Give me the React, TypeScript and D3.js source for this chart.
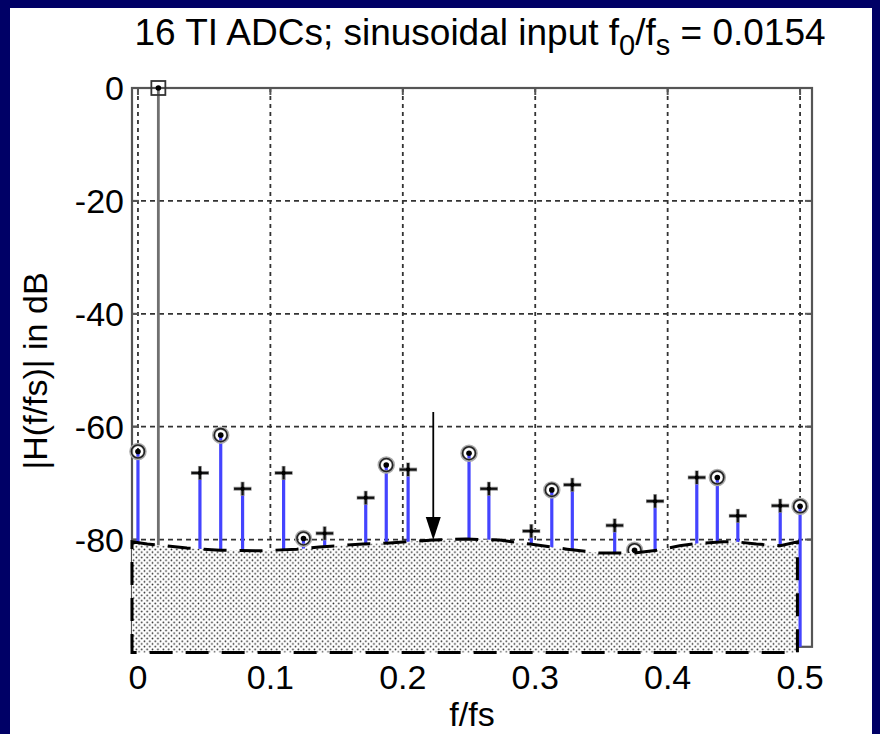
import React from 'react';
import * as d3 from 'd3';

const W = 880;
const H = 734;

const xTicks = [0, 0.1, 0.2, 0.3, 0.4, 0.5];
const xTickLabels = ['0', '0.1', '0.2', '0.3', '0.4', '0.5'];
const yTicks = [0, -20, -40, -60, -80];
const yTickLabels = ['0', '-20', '-40', '-60', '-80'];

// spur frequencies (f/fs), levels (dB) and marker kinds
const spurFreq = [0, 0.0468, 0.0625, 0.079, 0.11, 0.125, 0.141, 0.172, 0.1875, 0.204, 0.25, 0.265, 0.297, 0.3125, 0.328, 0.36, 0.375, 0.3905, 0.422, 0.4375, 0.453, 0.485, 0.5];
const spurDb = [-64.4, -68.2, -61.5, -71.0, -68.2, -79.8, -78.9, -72.6, -66.8, -67.6, -64.7, -71.0, -78.5, -71.2, -70.3, -77.5, -81.9, -73.2, -69.0, -69.0, -75.8, -74.0, -74.1];
const spurMarker = ['circle', 'plus', 'circle', 'plus', 'plus', 'circle', 'plus', 'plus', 'circle', 'plus', 'circle', 'plus', 'plus', 'circle', 'plus', 'plus', 'circle', 'plus', 'plus', 'circle', 'plus', 'plus', 'circle'];

// fundamental
const fundFreq = [0.0154];
const fundDb = [0];

// noise floor region (top boundary)
const floorFreq = [-0.0045, 0.007, 0.037, 0.062, 0.092, 0.12, 0.137, 0.17, 0.19, 0.223, 0.248, 0.273, 0.296, 0.324, 0.349, 0.374, 0.392, 0.409, 0.422, 0.442, 0.452, 0.467, 0.485, 0.498];
const floorDb = [-80.4, -80.8, -81.5, -81.9, -82.0, -81.7, -81.3, -80.8, -80.6, -80.1, -79.9, -80.1, -80.8, -81.7, -82.4, -82.4, -81.9, -81.1, -80.7, -80.4, -80.4, -80.8, -81.1, -80.4];
const floorBottomDb = -100;

// arrow
const arrowFreq = 0.223;
const arrowFromDb = -57.4;
const arrowToDb = -80.1;

const FONT = '"Liberation Sans", Arial, Helvetica, sans-serif';

export default function App() {
  const x = d3.scaleLinear().domain([-0.0045, 0.509]).range([132, 812]);
  const y = d3.scaleLinear().domain([-99, 0]).range([646.8, 88]);
  const [x0, x1] = x.range();
  const [yB, yT] = y.range();

  const floorPts: [number, number][] = floorFreq.map((f, i) => [x(f), y(floorDb[i])]);
  floorPts.push([x(floorFreq[floorFreq.length - 1]), y(floorBottomDb)]);
  floorPts.push([x(floorFreq[0]), y(floorBottomDb)]);
  const floorPath = d3.line()(floorPts) + 'Z';

  const stemColor = '#4444ff';
  const ax = x(arrowFreq);
  const ayTip = y(arrowToDb);

  return (
    <svg width={W} height={H} style={{ position: 'absolute', left: 0, top: 0, display: 'block' }} fontFamily={FONT}>
      <defs>
        <pattern id="dots" width="5.4" height="5.4" patternUnits="userSpaceOnUse">
          <rect width="5.4" height="5.4" fill="#fff" />
          <circle cx="1.35" cy="1.35" r="0.85" fill="#222" />
          <circle cx="4.05" cy="4.05" r="0.85" fill="#222" />
        </pattern>
      </defs>
      <rect x={0} y={0} width={W} height={H} fill="#000066" />
      <rect x={10} y={8} width={862} height={H - 8} fill="#fff" />

      {/* grid */}
      {xTicks.map((t) => (
        <line key={'gx' + t} x1={x(t)} x2={x(t)} y1={yT} y2={yB} stroke="#333" strokeWidth={1.8} strokeDasharray="4,4" />
      ))}
      {yTicks.map((t) => (
        <line key={'gy' + t} x1={x0} x2={x1} y1={y(t)} y2={y(t)} stroke="#333" strokeWidth={1.8} strokeDasharray="5,4" />
      ))}

      {/* axes box */}
      <rect x={x0} y={yT} width={x1 - x0} height={yB - yT} fill="none" stroke="#555" strokeWidth={2.2} />
      {yTicks.map((t) => (
        <g key={'ty' + t}>
          <line x1={x0} x2={x0 + 7} y1={y(t)} y2={y(t)} stroke="#555" strokeWidth={2} />
          <line x1={x1} x2={x1 - 7} y1={y(t)} y2={y(t)} stroke="#555" strokeWidth={2} />
        </g>
      ))}
      {xTicks.map((t) => (
        <g key={'tx' + t}>
          <line x1={x(t)} x2={x(t)} y1={yB} y2={yB - 7} stroke="#555" strokeWidth={2} />
          <line x1={x(t)} x2={x(t)} y1={yT} y2={yT + 7} stroke="#555" strokeWidth={2} />
        </g>
      ))}

      {/* fundamental */}
      {fundFreq.map((f, i) => (
        <g key={'f' + i}>
          <line x1={x(f)} x2={x(f)} y1={y(fundDb[i])} y2={yB} stroke="#707070" strokeWidth={2.8} />
          <rect x={x(f) - 7} y={y(fundDb[i]) - 7} width={14} height={14} fill="none" stroke="#333" strokeWidth={1.8} />
          <circle cx={x(f)} cy={y(fundDb[i])} r={2.8} fill="#000" />
        </g>
      ))}

      {/* spurs */}
      {spurFreq.map((f, i) => (
        <line key={'s' + i} x1={x(f)} x2={x(f)} y1={y(spurDb[i])} y2={yB} stroke={stemColor} strokeWidth={3.2} />
      ))}
      {spurFreq.map((f, i) => {
        const cx = x(f);
        const cy = y(spurDb[i]);
        return spurMarker[i] === 'circle' ? (
          <g key={'m' + i}>
            <circle cx={cx} cy={cy} r={7} fill="none" stroke="#aaa" strokeWidth={3.5} />
            <circle cx={cx} cy={cy} r={6.5} fill="none" stroke="#222" strokeWidth={1.6} />
            <circle cx={cx} cy={cy} r={2.8} fill="#000" />
          </g>
        ) : (
          <g key={'m' + i}>
            <line x1={cx - 9} x2={cx + 9} y1={cy} y2={cy} stroke="#999" strokeWidth={4} />
            <line x1={cx} x2={cx} y1={cy - 7} y2={cy + 7} stroke="#999" strokeWidth={4} />
            <line x1={cx - 8.5} x2={cx + 8.5} y1={cy} y2={cy} stroke="#111" strokeWidth={2.2} />
            <line x1={cx} x2={cx} y1={cy - 6.5} y2={cy + 6.5} stroke="#111" strokeWidth={2.2} />
            <circle cx={cx} cy={cy} r={2.2} fill="#000" />
          </g>
        );
      })}

      {/* noise floor patch */}
      <path d={floorPath} fill="url(#dots)" stroke="#000" strokeWidth={3} strokeDasharray="23,13" />

      {/* arrow */}
      <line x1={ax} x2={ax} y1={y(arrowFromDb)} y2={ayTip - 18} stroke="#000" strokeWidth={1.8} />
      <path d={`M${ax - 7.5},${ayTip - 23}L${ax + 7.5},${ayTip - 23}L${ax},${ayTip}Z`} fill="#000" />

      {/* tick labels */}
      {yTicks.map((t, i) => (
        <text key={'ly' + t} x={124} y={y(t)} dy="0.36em" textAnchor="end" fontSize={34} fill="#000">
          {yTickLabels[i]}
        </text>
      ))}
      {xTicks.map((t, i) => (
        <text key={'lx' + t} x={x(t)} y={689} textAnchor="middle" fontSize={34} fill="#000">
          {xTickLabels[i]}
        </text>
      ))}

      {/* axis labels */}
      <text x={472} y={726} textAnchor="middle" fontSize={34} fill="#000">f/fs</text>
      <text transform="translate(47,371) rotate(-90)" textAnchor="middle" fontSize={34} fill="#000">|H(f/fs)| in dB</text>

      {/* title */}
      <text x={480} y={45} textAnchor="middle" fontSize={37} fill="#000">
        16 TI ADCs; sinusoidal input f<tspan dy={10} fontSize={29}>0</tspan>
        <tspan dy={-10}>/f</tspan>
        <tspan dy={10} fontSize={29}>s</tspan>
        <tspan dy={-10}> = 0.0154</tspan>
      </text>
    </svg>
  );
}
